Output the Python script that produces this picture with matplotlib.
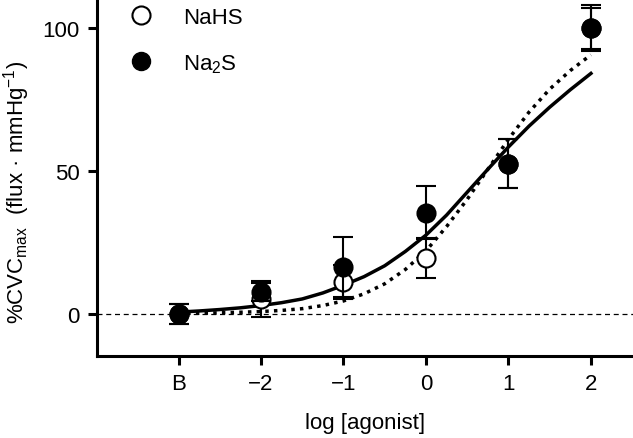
import numpy as np
import matplotlib
matplotlib.use("Agg")
import matplotlib.pyplot as plt
from matplotlib.lines import Line2D

plt.rcParams['font.family'] = ['Liberation Sans', 'DejaVu Sans']
plt.rcParams['mathtext.fontset'] = 'custom'
plt.rcParams['mathtext.rm'] = 'Liberation Sans'
plt.rcParams['mathtext.it'] = 'Liberation Sans'

# x positions: B (baseline) is drawn at -3
doses = [-3, -2, -1, 0, 1, 2]
tick_labels = ['B', '\u22122', '\u22121', '0', '1', '2']

nahs_mean = [0, 5.2, 11.1, 19.5, 52.5, 99.8]
nahs_err = [3.5, 6.4, 6.0, 7.0, 8.7, 7.1]

na2s_mean = [0, 7.6, 16.3, 35.3, 52.5, 99.8]
na2s_err = [3.5, 3.1, 10.5, 9.3, 8.7, 8.1]

# fitted curves
fit_x = [-3, -2.75, -2.5, -2.25, -2, -1.75, -1.5, -1.25, -1, -0.75, -0.5, -0.25,
         0, 0.25, 0.5, 0.75, 1, 1.25, 1.5, 1.75, 2]
na2s_fit = [0.6, 1.0, 1.5, 2.1, 2.9, 3.9, 5.2, 7.3, 10.0, 13.0, 16.8, 21.8,
            27.5, 34.5, 42.5, 50.5, 58.3, 65.6, 72.2, 78.3, 84.0]
nahs_fit = [0.1, 0.2, 0.35, 0.55, 0.8, 1.2, 1.8, 2.9, 4.5, 7.0, 10.5, 15.5,
            22.0, 30.5, 40.0, 50.5, 61.0, 70.5, 78.5, 85.0, 90.5]

fig = plt.figure(figsize=(6.33, 4.39), dpi=100)
ax = fig.add_axes([0.153, 0.187, 0.847, 0.813])

ax.axhline(0, color='black', lw=0.9, ls=(0, (4, 3)), zorder=1)

ax.plot(fit_x, nahs_fit, color='black', lw=2.5, ls=(0, (1, 1.5)),
        dash_capstyle='butt', zorder=2)
ax.plot(fit_x, na2s_fit, color='black', lw=2.5, zorder=2)

ax.errorbar(doses, nahs_mean, yerr=nahs_err, fmt='o', ms=13, mfc='white',
            mec='black', mew=1.5, ecolor='black', elinewidth=1.5, capsize=7,
            capthick=1.5, zorder=3)
ax.errorbar(doses, na2s_mean, yerr=na2s_err, fmt='o', ms=13, mfc='black',
            mec='black', mew=1.5, ecolor='black', elinewidth=1.5, capsize=7,
            capthick=1.5, zorder=4)

handles = [Line2D([], [], ls='none', marker='o', ms=13, mfc='white', mec='black', mew=1.5),
           Line2D([], [], ls='none', marker='o', ms=13, mfc='black', mec='black')]
ax.legend(handles, ['NaHS', 'Na$_{\\mathregular{2}}$S'], loc='upper left',
          bbox_to_anchor=(0.02, 1.035), frameon=False, fontsize=16,
          handletextpad=1.3, labelspacing=1.1, handlelength=1.2)

ax.set_xlim(-3.99, 2.51)
ax.set_ylim(-14.7, 110)
ax.set_xticks(doses)
ax.set_xticklabels(tick_labels)
ax.set_yticks([0, 50, 100])

for s in ['top', 'right']:
    ax.spines[s].set_visible(False)
for s in ['left', 'bottom']:
    ax.spines[s].set_linewidth(2.2)

ax.tick_params(axis='both', direction='out', length=6.5, width=2.2,
               labelsize=16, pad=6)

ax.set_xlabel('log [agonist]', fontsize=16, labelpad=13)
ax.set_ylabel('%CVC$_{\\mathregular{max}}$  (flux \u00b7 mmHg$^{\\mathregular{\u22121}}$)',
              fontsize=16)
ax.yaxis.set_label_coords(-0.121, 0.46)

fig.savefig('out.png', dpi=100)
